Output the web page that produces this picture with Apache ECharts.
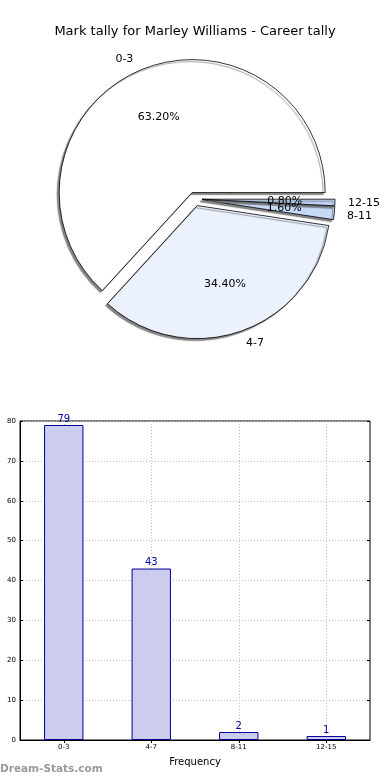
<!DOCTYPE html>
<html>
<head>
<meta charset="utf-8">
<script src="https://cdn.jsdelivr.net/npm/echarts@6/dist/echarts.min.js"></script>
<style>
html,body{margin:0;padding:0;background:#fff;}
#c{width:390px;height:780px;}
</style>
</head>
<body>
<div id="c"></div>
<script>
const titleText = 'Mark tally for Marley Williams - Career tally';
const categories = ['0-3', '4-7', '8-11', '12-15'];
const counts = [79, 43, 2, 1];
const sliceColors = ['#ffffff', '#ebf2fe', '#c6daf8', '#bcd4f7'];
const yTicks = { min: 0, max: 80, interval: 10 };

const pieData = categories.map((c, i) => ({
  name: c, value: counts[i], selected: true,
  itemStyle: { color: sliceColors[i] }
}));
const pieLabelData = categories.map((c, i) => ({ name: c, value: counts[i], selected: true }));

const font = 'DejaVu Sans';
const PR = 133;
const chart = echarts.init(document.getElementById('c'), null, { renderer: 'canvas' });
chart.setOption({
  animation: false,
  textStyle: { fontFamily: font },
  title: {
    text: titleText, left: 'center', top: 20,
    textStyle: { fontFamily: font, fontSize: 13, fontWeight: 'normal', color: '#000' }
  },
  graphic: [{
    type: 'text', left: 0, top: 764,
    style: { text: 'Dream-Stats.com', font: 'bold 10.5px "DejaVu Sans"', fill: '#9a9a9a' }
  }],
  grid: {
    left: 20, right: 20, top: 421, bottom: 40,
    show: true, borderColor: '#000', borderWidth: 1, backgroundColor: 'transparent'
  },
  xAxis: [{
    type: 'category', data: categories, position: 'bottom',
    name: 'Frequency', nameLocation: 'middle', nameGap: 17,
    nameTextStyle: { fontSize: 10, color: '#000', fontFamily: font },
    axisLine: { lineStyle: { color: '#000' } },
    axisTick: { show: true, inside: true, length: 3, alignWithLabel: true, lineStyle: { color: '#000' } },
    axisLabel: { fontSize: 7, color: '#000', margin: 4 },
    splitLine: { show: true, alignWithLabel: true, lineStyle: { color: '#c0c0c0', type: [1, 2] } }
  }, {
    type: 'category', data: categories, position: 'top',
    axisLine: { show: false },
    axisTick: { show: true, inside: true, length: 3, alignWithLabel: true, lineStyle: { color: '#000' } },
    axisLabel: { show: false }, splitLine: { show: false }
  }],
  yAxis: [{
    type: 'value', min: yTicks.min, max: yTicks.max, interval: yTicks.interval,
    axisLine: { show: true, lineStyle: { color: '#000' } },
    axisTick: { show: true, inside: true, length: 3, lineStyle: { color: '#000' } },
    axisLabel: { fontSize: 7, color: '#000', margin: 4 },
    splitLine: { show: true, lineStyle: { color: '#c0c0c0', type: [1, 2] } }
  }, {
    type: 'value', min: yTicks.min, max: yTicks.max, interval: yTicks.interval, position: 'right',
    axisLine: { show: false },
    axisTick: { show: true, inside: true, length: 3, lineStyle: { color: '#000' } },
    axisLabel: { show: false }, splitLine: { show: false }
  }],
  series: [{
    type: 'pie', center: [195, 199], radius: PR,
    startAngle: 0, clockwise: false,
    selectedMode: 'multiple', selectedOffset: 7,
    avoidLabelOverlap: true,
    data: pieData,
    itemStyle: {
      borderColor: '#000', borderWidth: 0.8,
      shadowColor: 'rgba(100,100,100,0.8)', shadowBlur: 1, shadowOffsetX: -2, shadowOffsetY: 2
    },
    label: {
      show: true, position: 'outside', formatter: '{b}',
      fontSize: 11, color: '#000', fontFamily: font, distanceToLabelLine: 0
    },
    labelLine: { show: false, length: 13, length2: 0 },
    emphasis: { disabled: true }
  }, {
    type: 'pie', center: [195, 199], radius: PR * 1.2,
    startAngle: 0, clockwise: false,
    selectedMode: 'multiple', selectedOffset: 7,
    silent: true, z: 5,
    avoidLabelOverlap: false,
    labelLayout: { hideOverlap: false },
    data: pieLabelData,
    itemStyle: { color: 'rgba(0,0,0,0)', borderWidth: 0 },
    label: {
      show: true, position: 'inside',
      formatter: p => p.percent.toFixed(2) + '%',
      fontSize: 11, color: '#000', fontFamily: font
    },
    labelLine: { show: false },
    emphasis: { disabled: true }
  }, {
    type: 'bar', data: counts, barWidth: '45%',
    itemStyle: { color: '#ccccee', borderColor: '#000099', borderWidth: 1 },
    label: { show: true, position: 'top', distance: 1, fontSize: 10, color: '#0000aa', fontFamily: font },
    emphasis: { disabled: true }
  }]
});
</script>
</body>
</html>
